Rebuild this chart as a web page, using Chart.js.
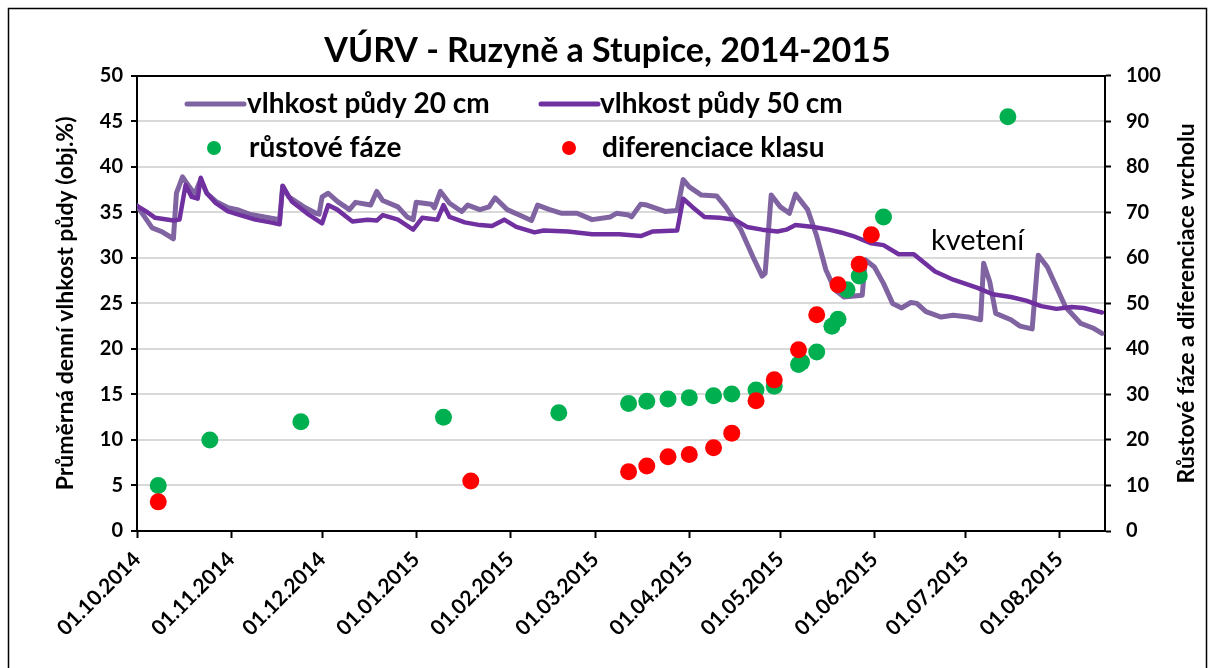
<!DOCTYPE html>
<html lang="cs">
<head>
<meta charset="utf-8">
<title>VÚRV - Ruzyně a Stupice, 2014-2015</title>
<script src="https://cdn.jsdelivr.net/npm/chart.js@4.4.1/dist/chart.umd.min.js"></script>
<style>
  html, body { margin: 0; padding: 0; background: #fff; }
  #obal { width: 1215px; height: 668px; }
</style>
</head>
<body>
<div id="obal"><canvas id="graf" width="1215" height="668"></canvas></div>
<script>
// osa x = dny od 1.10.2014
const dnyMesicu = [0, 31, 61, 92, 123, 151, 182, 212, 243, 273, 304];
const popiskyMesicu = ['01.10.2014', '01.11.2014', '01.12.2014', '01.01.2015', '01.02.2015', '01.03.2015',
    '01.04.2015', '01.05.2015', '01.06.2015', '01.07.2015', '01.08.2015'];

// vlhkost pudy 20 cm (obj.%)
const dny20 = [0, 5, 8, 12, 13, 15, 16, 19, 21, 23, 26, 30, 33, 37, 42, 47, 48, 50, 55, 59,
    60, 61, 63, 66, 70, 72, 77, 79, 81, 86, 89, 91, 92, 97, 98, 100, 103, 107, 109, 113,
    116, 118, 122, 126, 130, 132, 136, 140, 145, 150, 156, 158, 162, 163, 166, 168, 174, 178, 180, 182,
    186, 191, 194, 199, 203, 206, 207, 209, 212, 215, 217, 221, 224, 227, 230, 233, 239, 240, 243, 246,
    249, 252, 255, 257, 260, 265, 269, 274, 278, 279, 281, 283, 288, 291, 295, 297, 300, 303, 306, 311,
    315, 318];
const vlhkost20 = [35.7, 33.3, 32.9, 32.1, 37.1, 38.9, 38.4, 37.0, 38.6, 37.1, 36.2, 35.5, 35.3, 34.8, 34.5, 34.2, 37.9, 36.7, 35.6, 34.9,
    34.8, 36.7, 37.1, 36.2, 35.3, 36.1, 35.8, 37.3, 36.3, 35.6, 34.5, 34.2, 36.1, 35.9, 35.5, 37.3, 36.0, 35.1, 35.8, 35.3,
    35.6, 36.6, 35.3, 34.7, 34.1, 35.8, 35.3, 34.9, 34.9, 34.2, 34.5, 34.9, 34.7, 34.5, 35.9, 35.8, 35.1, 35.2, 38.6, 37.8,
    36.9, 36.8, 35.6, 33.1, 30.1, 28.0, 28.3, 36.9, 35.6, 34.9, 37.0, 35.3, 32.4, 28.7, 26.5, 25.7, 25.9, 29.8, 29.0, 27.2,
    25.0, 24.5, 25.1, 25.0, 24.1, 23.5, 23.7, 23.5, 23.2, 29.4, 27.4, 23.9, 23.2, 22.5, 22.2, 30.3, 29.0, 26.8, 24.6, 22.8,
    22.3, 21.7];

// vlhkost pudy 50 cm (obj.%)
const dny50 = [0, 3, 6, 12, 14, 16, 18, 20, 21, 23, 26, 30, 34, 39, 44, 47, 48, 51, 56, 61,
    63, 66, 71, 76, 79, 81, 86, 91, 94, 99, 101, 103, 108, 113, 117, 121, 125, 131, 134, 142,
    150, 159, 166, 170, 178, 180, 183, 187, 192, 197, 201, 206, 211, 214, 217, 223, 228, 233, 236, 242,
    246, 251, 256, 263, 269, 277, 282, 288, 293, 298, 303, 308, 312, 318];
const vlhkost50 = [35.7, 35.1, 34.4, 34.1, 34.2, 38.0, 36.7, 36.5, 38.8, 37.1, 36.0, 35.1, 34.7, 34.2, 33.9, 33.7, 37.9, 36.2, 34.9, 33.8,
    35.8, 35.3, 34.0, 34.2, 34.1, 34.7, 34.2, 33.1, 34.4, 34.2, 35.8, 34.5, 33.9, 33.6, 33.5, 34.2, 33.4, 32.8, 33.0, 32.9,
    32.6, 32.6, 32.4, 32.9, 33.0, 36.5, 35.6, 34.5, 34.4, 34.2, 33.4, 33.1, 32.9, 33.1, 33.6, 33.4, 33.1, 32.7, 32.4, 31.6,
    31.4, 30.4, 30.4, 28.5, 27.6, 26.7, 26.0, 25.7, 25.3, 24.7, 24.4, 24.6, 24.5, 24.0];

// rustove faze (prava osa)
const dnyFaze = [7, 24, 54, 101, 139, 162, 168, 175, 182, 190, 196, 204, 210, 218, 219, 224, 229, 231, 234, 238, 246, 287];
const rustoveFaze = [10, 20, 24, 25, 26, 28, 28.5, 29, 29.3, 29.7, 30.1, 31, 31.8, 36.6, 37.1, 39.3, 45, 46.5, 53, 56, 69, 91];

// diferenciace klasu (prava osa)
const dnyKlas = [7, 110, 162, 168, 175, 182, 190, 196, 204, 210, 218, 224, 231, 238, 242];
const diferenciaceKlasu = [6.4, 11, 13, 14.3, 16.3, 16.8, 18.3, 21.5, 28.6, 33.2, 39.8, 47.5, 54.1, 58.6, 65.1];

const kveteni = { text: 'kvetení', den: 277, vlhkost: 31.9 };

function spoj(xs, ys) {
    return xs.map((x, i) => ({ x: x, y: ys[i] }));
}

const pismo = 'Lato';
Chart.defaults.font.family = pismo;
Chart.defaults.color = '#000';

// vlastni legenda, popisek osy vpravo, kveteni a ramecek
const doplnky = {
    id: 'doplnky',
    afterDatasetsDraw(chart) {
        const ctx = chart.ctx;
        const area = chart.chartArea;
        const ds = chart.data.datasets;
        ctx.save();

        // kveteni
        ctx.font = '29px ' + pismo;
        ctx.fillStyle = '#000';
        ctx.textAlign = 'center';
        ctx.textBaseline = 'middle';
        ctx.fillText(kveteni.text, chart.scales.x.getPixelForValue(kveteni.den), chart.scales.y.getPixelForValue(kveteni.vlhkost));

        // legenda
        const polozky = [
            { x: 187, y: 104, tx: 247 },
            { x: 541, y: 104, tx: 600 },
            { x: 214, y: 148, tx: 249 },
            { x: 569, y: 148, tx: 602 }
        ];
        ctx.font = 'bold 28px ' + pismo;
        ctx.textAlign = 'left';
        ds.forEach((d, i) => {
            const p = polozky[i];
            if (d.showLine) {
                ctx.strokeStyle = d.borderColor;
                ctx.lineWidth = 5;
                ctx.lineCap = 'round';
                ctx.beginPath();
                ctx.moveTo(p.x, p.y);
                ctx.lineTo(p.x + 57, p.y);
                ctx.stroke();
            } else {
                ctx.fillStyle = d.backgroundColor;
                ctx.beginPath();
                ctx.arc(p.x, p.y, 7, 0, Math.PI * 2);
                ctx.fill();
            }
            ctx.fillStyle = '#000';
            ctx.fillText(d.label, p.tx, p.y);
        });

        // popisek prave osy
        ctx.font = 'bold 23px ' + pismo;
        ctx.textAlign = 'center';
        ctx.translate(1187, (area.top + area.bottom) / 2);
        ctx.rotate(-Math.PI / 2);
        ctx.fillText('Růstové fáze a diferenciace vrcholu', 0, 0);
        ctx.restore();

        ctx.save();
        ctx.strokeStyle = '#000';
        ctx.lineWidth = 1.5;
        ctx.strokeRect(8.5, 8.5, 1198, 700);
        ctx.restore();
    }
};

const ctx = document.getElementById('graf').getContext('2d');
new Chart(ctx, {
    type: 'scatter',
    data: {
        datasets: [
            {
                label: 'vlhkost půdy 20 cm',
                data: spoj(dny20, vlhkost20),
                showLine: true,
                borderColor: '#8064a2',
                backgroundColor: '#8064a2',
                borderWidth: 5,
                borderJoinStyle: 'round',
                borderCapStyle: 'round',
                pointRadius: 0,
                yAxisID: 'y',
                order: 3
            },
            {
                label: 'vlhkost půdy 50 cm',
                data: spoj(dny50, vlhkost50),
                showLine: true,
                borderColor: '#7030a0',
                backgroundColor: '#7030a0',
                borderWidth: 4.5,
                borderJoinStyle: 'round',
                borderCapStyle: 'round',
                pointRadius: 0,
                yAxisID: 'y',
                order: 2
            },
            {
                label: 'růstové fáze',
                data: spoj(dnyFaze, rustoveFaze),
                showLine: false,
                backgroundColor: '#00b050',
                borderWidth: 0,
                pointRadius: 8.5,
                yAxisID: 'y2',
                order: 1
            },
            {
                label: 'diferenciace klasu',
                data: spoj(dnyKlas, diferenciaceKlasu),
                showLine: false,
                backgroundColor: '#ff0000',
                borderWidth: 0,
                pointRadius: 8.5,
                yAxisID: 'y2',
                order: 0
            }
        ]
    },
    options: {
        responsive: false,
        animation: false,
        devicePixelRatio: 1,
        layout: { padding: 0 },
        plugins: {
            legend: { display: false },
            tooltip: { enabled: false },
            title: {
                display: true,
                text: 'VÚRV - Ruzyně a Stupice, 2014-2015',
                color: '#000',
                font: { size: 34, weight: 'bold' },
                padding: { top: 31, bottom: 4 }
            }
        },
        scales: {
            x: {
                type: 'linear',
                min: 0,
                max: 319,
                afterBuildTicks: s => { s.ticks = dnyMesicu.map(v => ({ value: v })); },
                afterFit: s => { s.height = 137; },
                ticks: {
                    autoSkip: false,
                    minRotation: 45,
                    maxRotation: 45,
                    padding: 9,
                    color: '#000',
                    font: { size: 21, weight: 'bold' },
                    callback: v => popiskyMesicu[dnyMesicu.indexOf(v)]
                },
                grid: { drawOnChartArea: false, drawTicks: true, tickLength: 7, tickColor: '#000', tickWidth: 2 },
                border: { color: '#000', width: 2 }
            },
            y: {
                position: 'left',
                min: 0,
                max: 50,
                afterFit: s => { s.width = 137; },
                ticks: { stepSize: 5, padding: 8, color: '#000', font: { size: 20, weight: 'bold' } },
                grid: {
                    color: c => (c.tick && c.tick.value === 50 ? '#000' : '#d9d9d9'),
                    lineWidth: 2,
                    tickColor: '#000',
                    tickLength: 6,
                    tickWidth: 2
                },
                border: { color: '#000', width: 2 },
                title: {
                    display: true,
                    text: 'Průměrná denní vlhkost půdy (obj.%)',
                    color: '#000',
                    font: { size: 23, weight: 'bold' },
                    padding: { top: 52, bottom: 0 }
                }
            },
            y2: {
                position: 'right',
                min: 0,
                max: 100,
                afterFit: s => { s.width = 110; },
                ticks: { stepSize: 10, padding: 15, color: '#000', font: { size: 20, weight: 'bold' } },
                grid: { drawOnChartArea: false, tickColor: '#000', tickLength: 6, tickWidth: 2 },
                border: { color: '#000', width: 2 }
            }
        }
    },
    plugins: [doplnky]
});
</script>
</body>
</html>
